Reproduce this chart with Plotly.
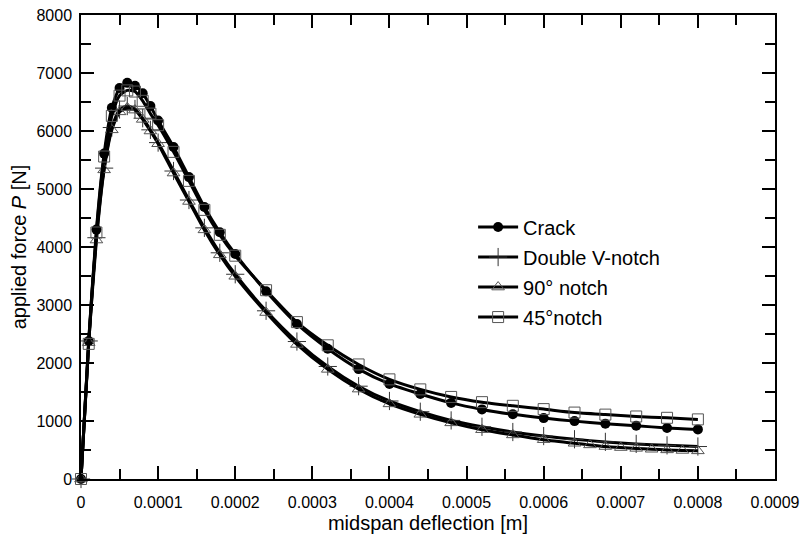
import plotly.graph_objects as go

# ---------------- data ----------------
x_main = [0, 0.00001, 0.00002, 0.00003, 0.00004, 0.00005, 0.00006, 0.00007, 0.00008, 0.00009, 0.0001,
          0.00012, 0.00014, 0.00016, 0.00018, 0.0002,
          0.00024, 0.00028, 0.00032, 0.00036, 0.0004, 0.00044, 0.00048, 0.00052, 0.00056, 0.0006,
          0.00064, 0.00068, 0.00072, 0.00076, 0.0008]

crack = [0, 2380, 4300, 5610, 6400, 6740, 6830, 6780, 6650, 6430, 6180,
         5725, 5205, 4690, 4255, 3880,
         3235, 2672, 2245, 1895, 1640, 1465, 1312, 1200, 1115, 1050,
         998, 953, 918, 880, 855]

notch45 = [0, 2330, 4250, 5560, 6260, 6610, 6700, 6680, 6520, 6300, 6100,
           5640, 5140, 4640, 4210, 3850,
           3255, 2705, 2305, 1975, 1718, 1545, 1415, 1325, 1262, 1205,
           1145, 1110, 1078, 1055, 1028]

double_v = [0, 2380, 4160, 5360, 6060, 6370, 6430, 6380, 6220, 6020, 5800,
            5310, 4810, 4330, 3900, 3530,
            2900, 2370, 1940, 1600, 1345, 1160, 1010, 900, 810, 740,
            685, 640, 605, 580, 560]

x_90 = [0, 0.00001, 0.00002, 0.00003, 0.00004, 0.00005, 0.00006, 0.00007, 0.00008, 0.00009, 0.0001,
        0.00012, 0.00014, 0.00016, 0.00018, 0.0002,
        0.00024, 0.00028, 0.00032, 0.00036, 0.0004, 0.00044, 0.00048, 0.00052, 0.00056, 0.0006,
        0.00064, 0.00066, 0.00068, 0.0007, 0.00072, 0.00074, 0.00076, 0.00078, 0.0008]

notch90 = [0, 2350, 4120, 5330, 6020, 6330, 6400, 6360, 6200, 6000, 5780,
           5275, 4785, 4295, 3865, 3495,
           2870, 2320, 1890, 1550, 1295, 1115, 968, 850, 760, 678,
           616, 588, 560, 542, 528, 513, 502, 492, 485]

x_tickvals = [0, 0.0001, 0.0002, 0.0003, 0.0004, 0.0005, 0.0006, 0.0007, 0.0008, 0.0009]
x_ticktext = ["0", "0.0001", "0.0002", "0.0003", "0.0004", "0.0005", "0.0006", "0.0007", "0.0008", "0.0009"]
y_tickvals = [0, 1000, 2000, 3000, 4000, 5000, 6000, 7000, 8000]

# ---------------- figure ----------------
FONT = "Liberation Sans, Arial, sans-serif"
LW = 3

fig = go.Figure()

fig.add_trace(go.Scatter(
    x=x_main, y=crack, name="Crack", mode="lines+markers", legendgroup="a",
    line=dict(color="black", width=LW, shape="spline", smoothing=0.6),
    marker=dict(symbol="circle", size=10, color="black"),
    cliponaxis=False))

fig.add_trace(go.Scatter(
    x=x_main, y=double_v, name="Double V-notch", mode="lines+markers", legendgroup="b",
    line=dict(color="black", width=LW, shape="spline", smoothing=0.6),
    marker=dict(symbol="cross-thin", size=13, color="#333333",
                line=dict(color="#333333", width=1)),
    cliponaxis=False))

fig.add_trace(go.Scatter(
    x=x_90, y=notch90, name="90° notch", mode="lines+markers", legendgroup="c",
    line=dict(color="black", width=LW, shape="spline", smoothing=0.6),
    marker=dict(symbol="triangle-up-open", size=11, color="#555555",
                line=dict(color="#555555", width=1)),
    cliponaxis=False))

fig.add_trace(go.Scatter(
    x=x_main, y=notch45, name="45°notch", mode="lines+markers", legendgroup="d",
    line=dict(color="black", width=LW, shape="spline", smoothing=0.6),
    marker=dict(symbol="square-open", size=11, color="#555555",
                line=dict(color="#555555", width=1)),
    cliponaxis=False))

axis_common = dict(
    showline=True, linecolor="black", linewidth=1.5, mirror="allticks",
    ticks="inside", tickcolor="black", tickwidth=1.5, ticklen=13,
    showgrid=False, zeroline=False, ticklabeloverflow="allow",
    tickfont=dict(family=FONT, size=16, color="black"),
)

fig.update_xaxes(
    range=[0, 0.0009], tickvals=x_tickvals, ticktext=x_ticktext, ticklabelstandoff=8,
    minor=dict(ticks="inside", dtick=0.00005, tick0=0, ticklen=10, tickwidth=1.5, tickcolor="black", showgrid=False),
    title=dict(text="midspan deflection [m]", font=dict(family=FONT, size=20, color="black"), standoff=12),
    **axis_common)

fig.update_yaxes(
    range=[0, 8000], tickvals=y_tickvals, ticklabelstandoff=4,
    minor=dict(ticks="inside", dtick=500, tick0=0, ticklen=10, tickwidth=1.5, tickcolor="black", showgrid=False),
    title=dict(text="applied force <i>P</i> [N]", font=dict(family=FONT, size=20, color="black"), standoff=4),
    **axis_common)

fig.update_layout(
    width=800, height=534,
    margin=dict(l=81, r=25, t=15, b=55, autoexpand=False),
    plot_bgcolor="white", paper_bgcolor="white",
    font=dict(family=FONT, color="black"),
    legend=dict(x=0.565, y=0.585, xanchor="left", yanchor="top",
                font=dict(family=FONT, size=20, color="black"),
                bgcolor="rgba(0,0,0,0)", tracegroupgap=1, itemwidth=40),
    showlegend=True,
)

fig.write_html("out.html", config={"displayModeBar": False},
               post_script="document.body.style.margin='0px';document.body.style.overflow='hidden';")
